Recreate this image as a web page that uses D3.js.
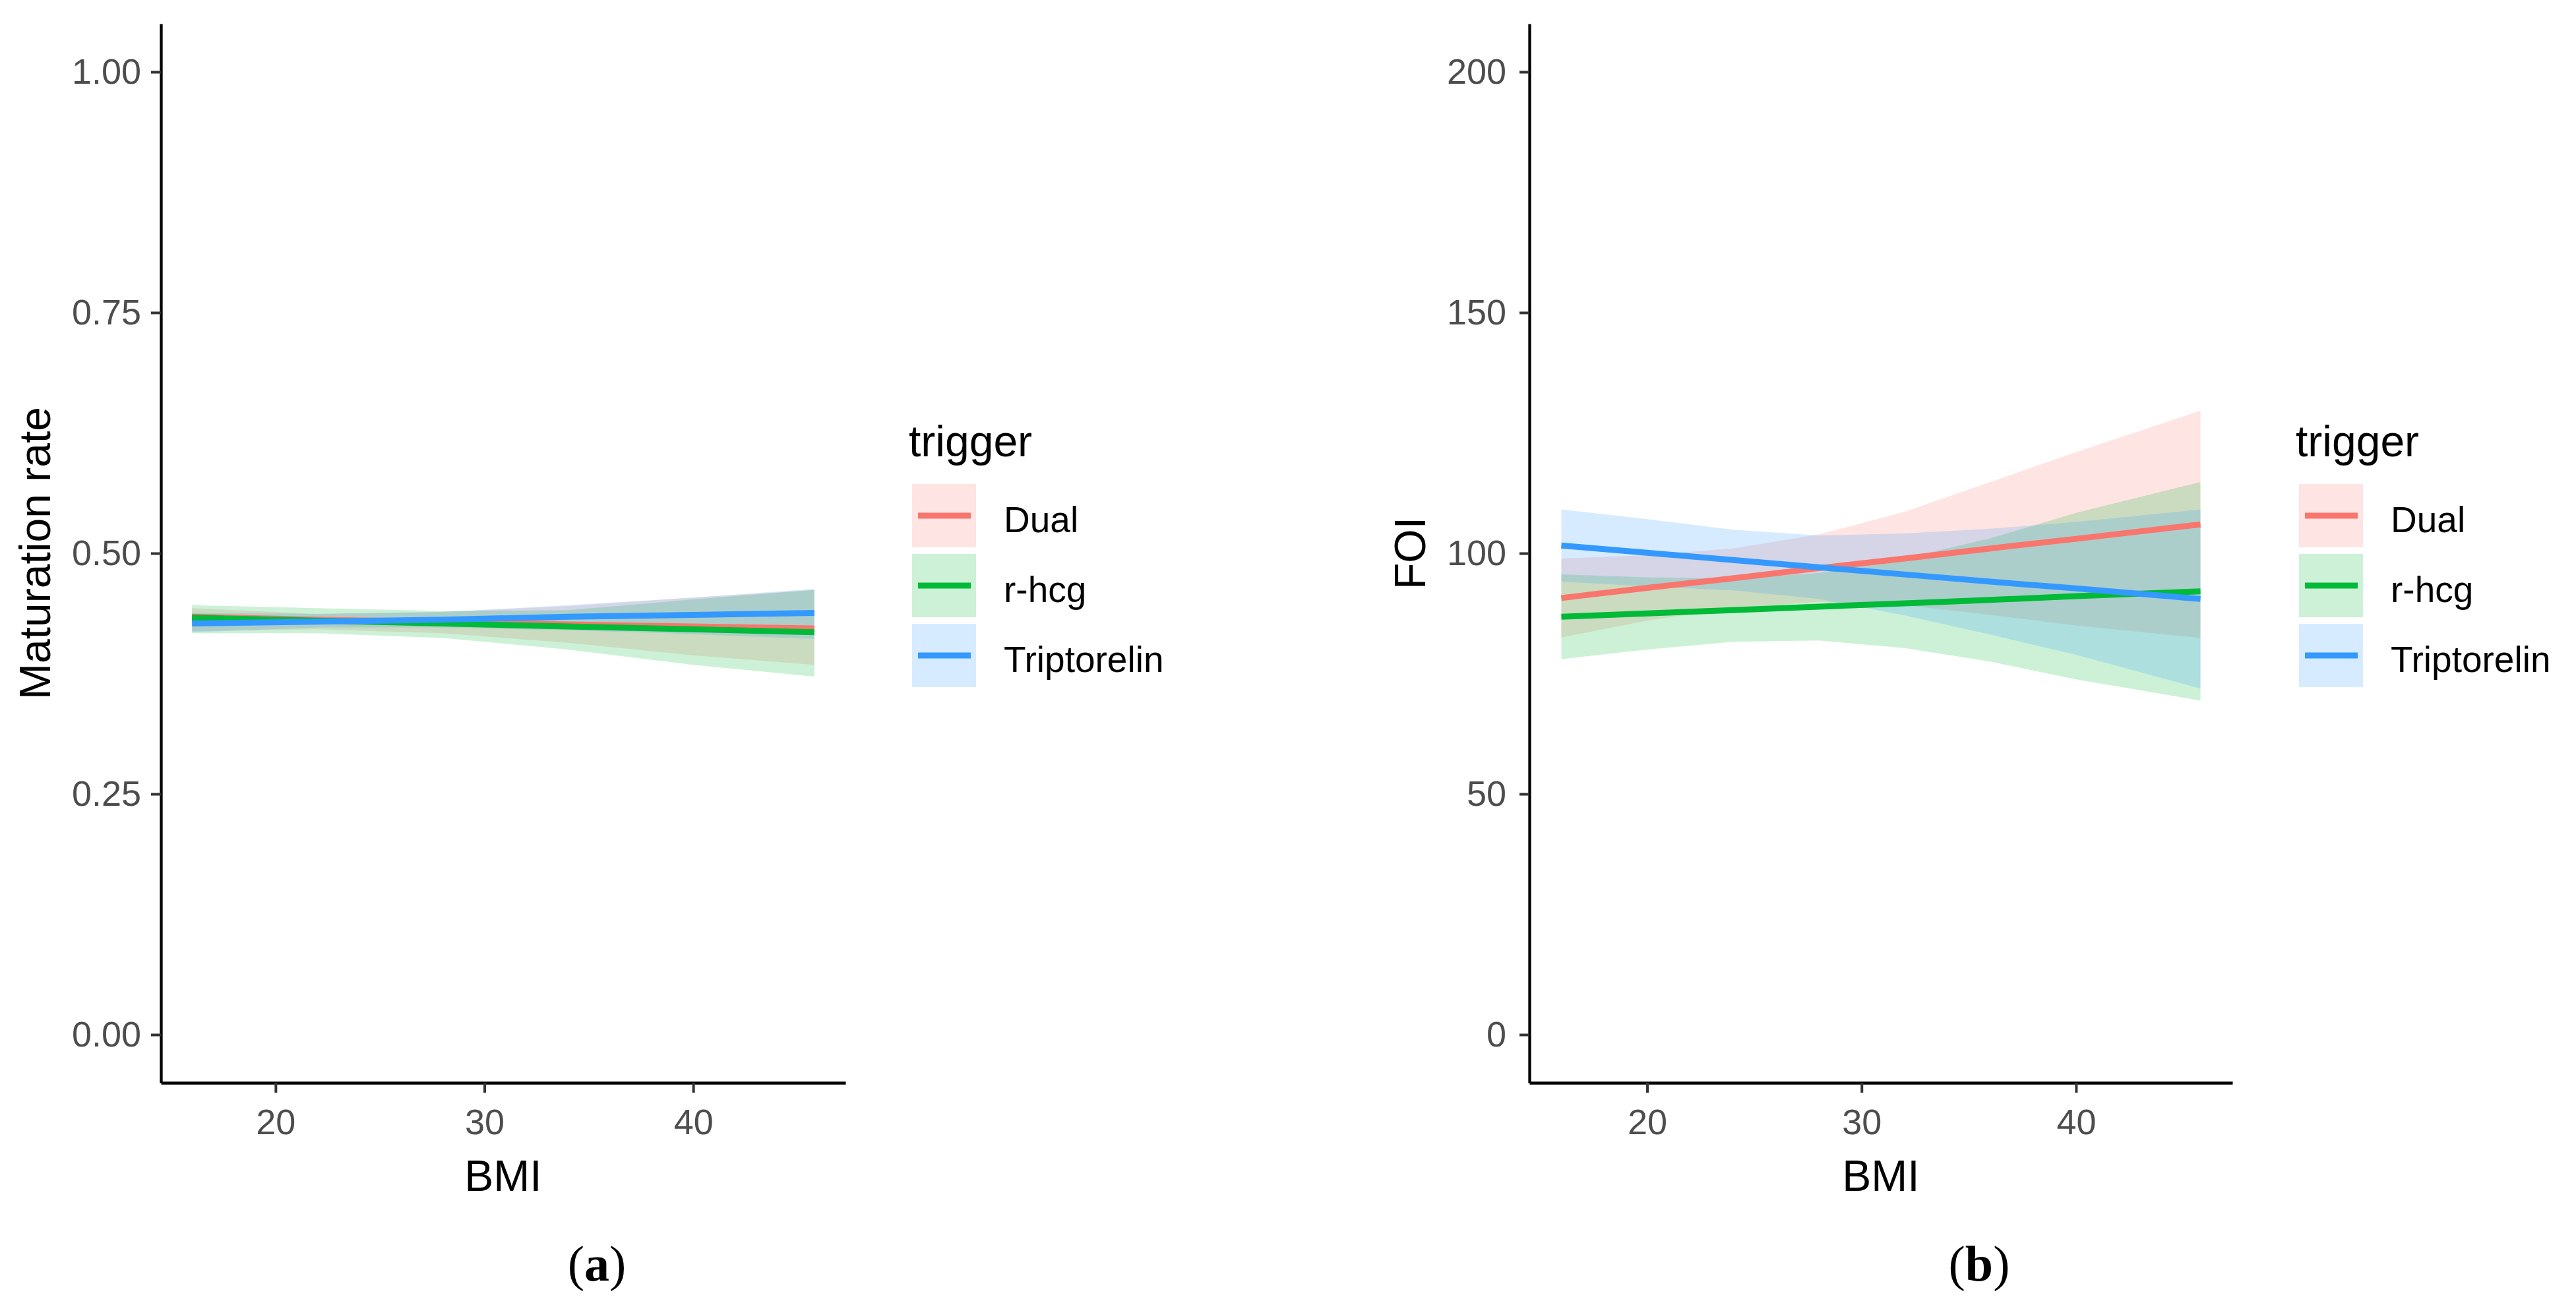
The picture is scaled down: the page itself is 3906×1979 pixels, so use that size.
<!DOCTYPE html>
<html>
<head>
<meta charset="utf-8">
<script src="https://cdn.jsdelivr.net/npm/d3@7"></script>
<style>
  body { margin: 0; background: #fff; }
  text { font-family: "Liberation Sans", Arial, sans-serif; }
</style>
</head>
<body>
<div id="chart"></div>
<script>
// groups and colours
const triggers = ["Dual", "r-hcg", "Triptorelin"];
const colors = ["#F8766D", "#00BA38", "#3399FF"];

// panel (a) : maturation rate vs BMI
const bmiA = [16, 22, 28, 34, 40, 45.8];
const matFit = [
  [0.434, 0.431, 0.429, 0.426, 0.424, 0.422],
  [0.433, 0.430, 0.427, 0.424, 0.421, 0.418],
  [0.427, 0.429, 0.431, 0.434, 0.436, 0.438]
];
const matLow = [
  [0.419, 0.421, 0.417, 0.407, 0.394, 0.384],
  [0.417, 0.417, 0.412, 0.400, 0.384, 0.372],
  [0.418, 0.423, 0.423, 0.420, 0.416, 0.411]
];
const matHigh = [
  [0.443, 0.437, 0.439, 0.445, 0.454, 0.462],
  [0.446, 0.443, 0.440, 0.441, 0.452, 0.462],
  [0.438, 0.437, 0.439, 0.446, 0.454, 0.463]
];
const matTicks = [0, 0.25, 0.5, 0.75, 1];

// panel (b) : FOI vs BMI
const bmiB = [16, 20, 24, 28, 32, 36, 40, 45.8];
const foiFit = [
  [90.7, 92.8, 94.8, 96.9, 98.9, 101.0, 103.0, 106.0],
  [86.8, 87.5, 88.2, 88.9, 89.6, 90.3, 91.1, 92.1],
  [101.6, 100.1, 98.6, 97.1, 95.6, 94.1, 92.7, 90.5]
];
const foiLow = [
  [82.5, 86.0, 88.6, 89.9, 89.2, 87.2, 85.0, 82.4],
  [78.0, 80.0, 81.6, 81.9, 80.3, 77.5, 73.8, 69.4],
  [94.1, 93.1, 92.3, 90.5, 87.1, 83.1, 78.9, 71.9]
];
const foiHigh = [
  [98.9, 99.6, 101.0, 103.9, 108.6, 114.8, 121.0, 129.6],
  [95.6, 95.0, 94.8, 95.9, 98.9, 103.1, 108.4, 114.8],
  [109.1, 107.1, 104.9, 103.7, 104.1, 105.1, 106.5, 109.1]
];
const foiTicks = [0, 50, 100, 150, 200];
const bmiTicks = [20, 30, 40];

const width = 3906,
      height = 1979;

let svg = d3.select("#chart")
  .append("svg")
    .attr("width", width)
    .attr("height", height);

// ggplot style 5% expansion of a range
function expand(lo, hi) {
  const pad = (hi - lo) * 0.05;
  return [lo - pad, hi + pad];
}

function drawPanel(p) {
  const g = svg.append("g");

  const x = d3.scaleLinear()
      .domain(expand(d3.min(p.bmi), d3.max(p.bmi)))
      .range([p.left, p.right]);
  const y = d3.scaleLinear()
      .domain(expand(p.ylim[0], p.ylim[1]))
      .range([1642, 36]);

  const groups = triggers.map((t, k) =>
    p.bmi.map((b, i) => ({ b: b, fit: p.fit[k][i], lo: p.low[k][i], hi: p.high[k][i] })));

  // confidence ribbons first
  groups.forEach((rows, k) => {
    g.append("path")
      .datum(rows)
      .attr("fill", colors[k])
      .attr("fill-opacity", 0.2)
      .attr("d", d3.area().x(d => x(d.b)).y0(d => y(d.lo)).y1(d => y(d.hi)));
  });

  // then the fitted lines on top
  groups.forEach((rows, k) => {
    g.append("path")
      .datum(rows)
      .attr("fill", "none")
      .attr("stroke", colors[k])
      .attr("stroke-width", 9)
      .attr("d", d3.line().x(d => x(d.b)).y(d => y(d.fit)));
  });

  // axes
  const ax = g.append("g")
      .attr("transform", "translate(0,1642)")
      .call(d3.axisBottom(x).tickValues(bmiTicks).tickSize(15).tickSizeOuter(0).tickPadding(25));
  const ay = g.append("g")
      .attr("transform", "translate(" + p.left + ",0)")
      .call(d3.axisLeft(y).tickValues(p.ticks).tickFormat(p.format).tickSize(15).tickSizeOuter(0).tickPadding(p.pad));

  [ax, ay].forEach(a => {
    a.select(".domain").attr("stroke", "#000").attr("stroke-width", 4.3);
    a.selectAll(".tick line").attr("stroke", "#333").attr("stroke-width", 4);
    a.selectAll(".tick text")
      .attr("fill", "#4D4D4D")
      .style("font-size", "54px")
      .style("font-family", "'Liberation Sans', Arial, sans-serif");
  });

  // axis titles
  g.append("text")
    .attr("x", (p.left + p.right) / 2)
    .attr("y", 1806)
    .attr("text-anchor", "middle")
    .style("font-size", "66px")
    .text("BMI");

  g.append("text")
    .attr("transform", "translate(" + p.titleX + ",839) rotate(-90)")
    .attr("text-anchor", "middle")
    .style("font-size", "66px")
    .text(p.ylabel);

  // legend
  const lx = p.right + 96;
  g.append("text")
    .attr("x", lx)
    .attr("y", 692)
    .style("font-size", "66px")
    .text("trigger");

  triggers.forEach((t, k) => {
    const ky = 734 + k * 106;
    g.append("rect")
      .attr("x", lx + 5)
      .attr("y", ky)
      .attr("width", 97)
      .attr("height", 96)
      .attr("fill", colors[k])
      .attr("fill-opacity", 0.2);
    g.append("line")
      .attr("x1", lx + 14)
      .attr("x2", lx + 94)
      .attr("y1", ky + 48)
      .attr("y2", ky + 48)
      .attr("stroke", colors[k])
      .attr("stroke-width", 9);
    g.append("text")
      .attr("x", lx + 144)
      .attr("y", ky + 73)
      .style("font-size", "55px")
      .text(t);
  });

  // sub figure caption
  const cap = g.append("text")
    .attr("x", p.capX)
    .attr("y", 1942)
    .attr("text-anchor", "middle")
    .style("font-family", "'Liberation Serif', 'Times New Roman', serif")
    .style("font-size", "76px");
  cap.append("tspan").text("(");
  cap.append("tspan").style("font-weight", "bold").text(p.tag);
  cap.append("tspan").text(")");
}

drawPanel({
  bmi: bmiA, fit: matFit, low: matLow, high: matHigh,
  ylim: [0, 1], ticks: matTicks, format: d3.format(".2f"),
  left: 244, right: 1282, pad: 15, titleX: 76,
  ylabel: "Maturation rate", tag: "a", capX: 905
});

drawPanel({
  bmi: bmiB, fit: foiFit, low: foiLow, high: foiHigh,
  ylim: [0, 200], ticks: foiTicks, format: d3.format("d"),
  left: 2319, right: 3385, pad: 20, titleX: 2161,
  ylabel: "FOI", tag: "b", capX: 3001
});
</script>
</body>
</html>
